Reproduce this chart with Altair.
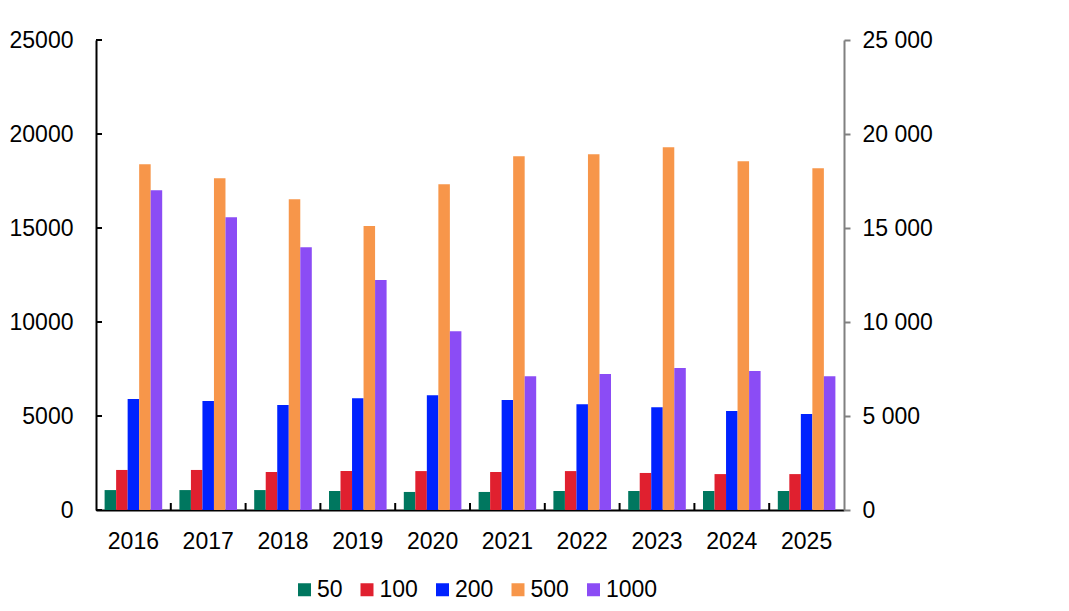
import altair as alt
import pandas as pd

# Yearly figures per denomination
years = ["2016", "2017", "2018", "2019", "2020", "2021", "2022", "2023", "2024", "2025"]
series = ["50", "100", "200", "500", "1000"]
v50 = [1060, 1060, 1060, 1010, 960, 960, 1010, 1010, 1010, 1010]
v100 = [2130, 2130, 2020, 2070, 2070, 2020, 2070, 1970, 1910, 1910]
v200 = [5900, 5800, 5580, 5950, 6110, 5850, 5630, 5470, 5260, 5100]
v500 = [18390, 17650, 16530, 15100, 17330, 18810, 18920, 19300, 18550, 18180]
v1000 = [17010, 15570, 13980, 12230, 9510, 7120, 7230, 7550, 7390, 7120]
colors = ["#00775F", "#E0202F", "#0022FF", "#F7964A", "#8B4CF5"]
y_ticks = [0, 5000, 10000, 15000, 20000, 25000]

values = [v50, v100, v200, v500, v1000]
rows = []
for s, vals in zip(series, values):
    for y, v in zip(years, vals):
        rows.append({"year": y, "series": s, "value": v})
df = pd.DataFrame(rows)
tick_df = pd.DataFrame({"v": y_ticks})
# separators sit after every year but the last (the right axis closes the plot)
sep_df = pd.DataFrame({"year": years[:-1]})

W, H = 748, 470
FONT = "Liberation Sans"
FS = 23
P_INNER = 0.23
STEP = W / len(years)          # band step with paddingOuter = paddingInner / 2
HALF_GAP = STEP * P_INNER / 2  # distance from a band's edge to the separator

yscale = alt.Scale(domain=[0, 25000], nice=False, zero=True)
xscale = alt.Scale(domain=years, paddingInner=P_INNER, paddingOuter=P_INNER / 2)
x_axis = alt.Axis(title=None, ticks=False, tickSize=0, labelPadding=20,
                  labelAngle=0, domainColor="black", domainWidth=2)

bars = alt.Chart(df).mark_bar().encode(
    x=alt.X("year:N", scale=xscale, sort=years, axis=x_axis),
    xOffset=alt.XOffset("series:N", sort=series,
                        scale=alt.Scale(domain=series, paddingInner=0, paddingOuter=0)),
    y=alt.Y(
        "value:Q", scale=yscale,
        axis=alt.Axis(title=None, values=y_ticks, format="d", ticks=False, tickSize=0,
                      labelPadding=23, domainColor="black", domainWidth=2, grid=False),
    ),
    color=alt.Color(
        "series:N", sort=series,
        scale=alt.Scale(domain=series, range=colors),
        legend=alt.Legend(title=None, orient="none", legendX=197, legendY=538,
                          direction="horizontal", symbolType="square",
                          symbolSize=169, symbolStrokeWidth=0, labelFontSize=FS,
                          labelOffset=1, columnPadding=12.5, padding=0),
    ),
)

# Inward tick marks on the left value axis
left_ticks = alt.Chart(tick_df).mark_rule(color="black", strokeWidth=2).encode(
    y=alt.Y("v:Q", scale=yscale, axis=None),
    x=alt.value(0),
    x2=alt.value(6),
)

# Inward tick marks halfway through the gap between category groups
x_ticks = alt.Chart(sep_df).mark_rule(color="black", strokeWidth=2, xOffset=HALF_GAP).encode(
    x=alt.X("year:N", scale=xscale, sort=years, axis=x_axis, bandPosition=1),
    y=alt.value(H - 7),
    y2=alt.value(H),
)

# Secondary value axis on the right, space as thousands separator
right_axis = alt.Chart(tick_df).mark_rule(opacity=0).encode(
    y=alt.Y(
        "v:Q", scale=yscale,
        axis=alt.Axis(orient="right", title=None, values=y_ticks,
                      labelExpr="replace(format(datum.value, ','), ',', ' ')",
                      tickSize=6, tickWidth=2, tickColor="#808080",
                      domainColor="#808080", domainWidth=2,
                      labelPadding=12, grid=False),
    ),
)

chart = (
    alt.layer(bars, left_ticks, x_ticks, right_axis)
    .resolve_scale(y="independent")
    .properties(
        width=W, height=H,
        autosize=alt.AutoSizeParams(type="none"),
        padding={"left": 96, "top": 40, "right": 225, "bottom": 101},
    )
    .configure_view(stroke=None)
    .configure_axis(labelFont=FONT, labelFontSize=FS, labelColor="black")
    .configure_legend(labelFont=FONT, labelColor="black")
)

chart.save("out.html", embed_options={"renderer": "svg", "actions": False})
